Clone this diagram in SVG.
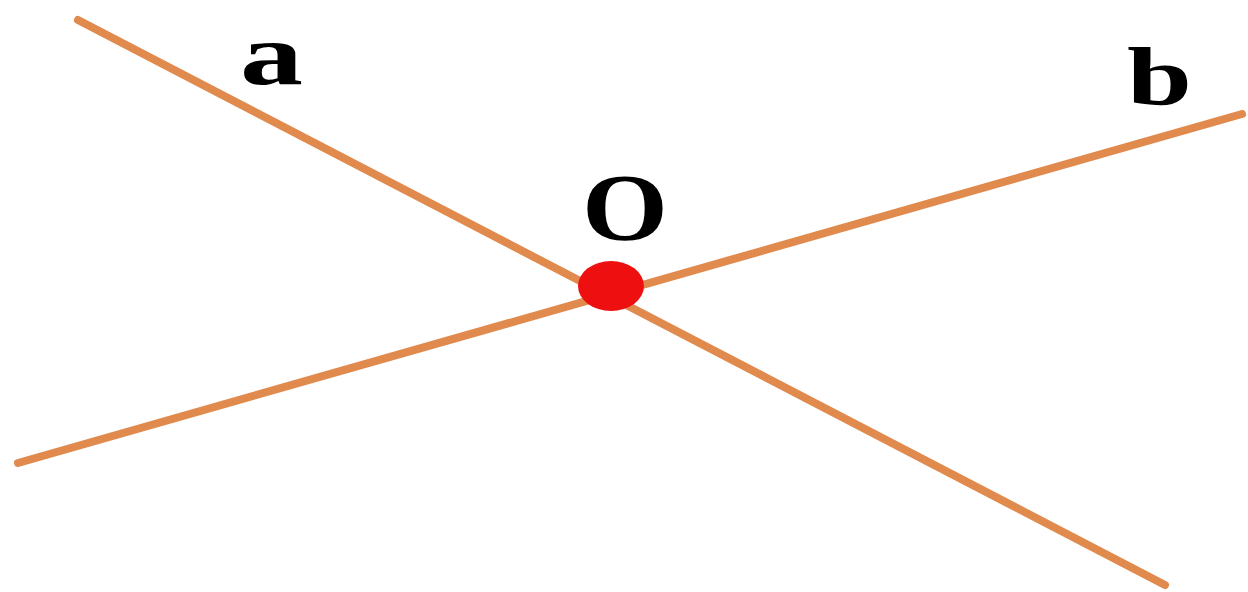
<svg xmlns="http://www.w3.org/2000/svg" width="1248" height="592" viewBox="0 0 1248 592">
  <style>
    .ln { stroke: #E08A4D; stroke-width: 8; stroke-linecap: round; fill: none; }
    .lbl { font-family: "Liberation Serif", "Times New Roman", serif; font-weight: bold; fill: #000; }
  </style>
  <rect width="1248" height="592" fill="#ffffff"/>
  <g id="connectors">
    <line id="line-a" class="ln" x1="78" y1="20" x2="1165" y2="585"/>
    <line id="line-b" class="ln" x1="18" y1="463" x2="1242" y2="114"/>
  </g>
  <g id="node-O">
    <ellipse cx="611" cy="286" rx="33" ry="25" fill="#EE1010"/>
    <text class="lbl" x="582" y="240" font-size="96" textLength="86" lengthAdjust="spacingAndGlyphs">O</text>
  </g>
  <g id="label-a">
    <text class="lbl" x="240" y="84" font-size="88" textLength="63" lengthAdjust="spacingAndGlyphs">a</text>
  </g>
  <g id="label-b">
    <text class="lbl" x="1127" y="104" font-size="82" textLength="65" lengthAdjust="spacingAndGlyphs">b</text>
  </g>
</svg>
